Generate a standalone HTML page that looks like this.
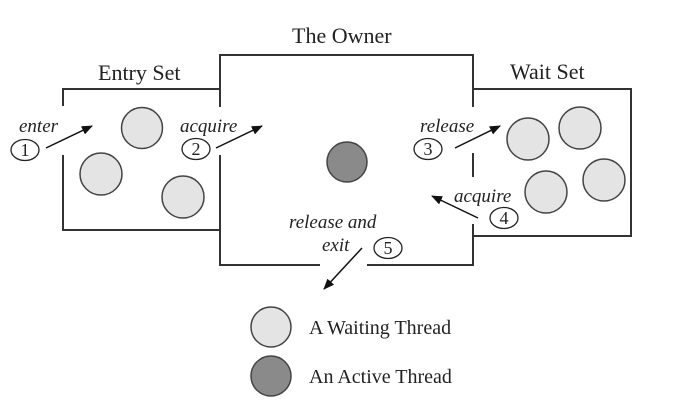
<!DOCTYPE html>
<html><head><meta charset="utf-8"><style>
html,body{margin:0;padding:0;background:#fff;}
svg{display:block;}
text{font-family:"Liberation Serif",serif;fill:#222;}
.t{font-size:22px;}
.i{font-size:19px;font-style:italic;}
.n{font-size:18px;}
.l{font-size:20px;}
</style></head><body>
<svg width="691" height="401" viewBox="0 0 691 401" xmlns="http://www.w3.org/2000/svg">
<defs>
<marker id="a" markerWidth="11" markerHeight="9" refX="10" refY="4.5" orient="auto" markerUnits="userSpaceOnUse">
<path d="M0,0 L11,4.5 L0,9 z" fill="#111"/></marker>
</defs>
<g stroke="#333" stroke-width="2" fill="none">
<polyline points="63,106 63,89 220,89"/>
<polyline points="63,155 63,230 220,230"/>
<polyline points="220,107 220,55 473,55 473,107"/>
<polyline points="220,155 220,265 320,265"/>
<polyline points="367,265 473,265 473,224"/>
<line x1="473" y1="153" x2="473" y2="177"/>
<polyline points="473,89 631,89 631,236 473,236"/>
</g>
<g stroke="#444" stroke-width="1.5" fill="#e4e4e4">
<circle cx="142" cy="128" r="20.5"/>
<circle cx="101" cy="174" r="21"/>
<circle cx="183" cy="197" r="21"/>
<circle cx="528" cy="139" r="21"/>
<circle cx="580" cy="128" r="21"/>
<circle cx="546" cy="192" r="21"/>
<circle cx="604" cy="180" r="21"/>
<circle cx="271" cy="327" r="20"/>
</g>
<g stroke="#444" stroke-width="1.5" fill="#8a8a8a">
<circle cx="347" cy="162" r="20"/>
<circle cx="271" cy="376" r="20"/>
</g>
<text class="t" x="292" y="43">The Owner</text>
<text class="t" x="98" y="80">Entry Set</text>
<text class="t" x="510" y="79">Wait Set</text>
<g stroke="#111" stroke-width="1.5" fill="none">
<line x1="46" y1="148" x2="92" y2="126" marker-end="url(#a)"/>
<line x1="216" y1="148" x2="262" y2="126" marker-end="url(#a)"/>
<line x1="455" y1="148" x2="500" y2="126" marker-end="url(#a)"/>
<line x1="478" y1="218" x2="432" y2="196" marker-end="url(#a)"/>
<line x1="362" y1="248" x2="324" y2="289" marker-end="url(#a)"/>
</g>
<g stroke="#222" stroke-width="1.3" fill="#fff">
<ellipse cx="25" cy="150" rx="14" ry="10.5"/>
<ellipse cx="196" cy="149" rx="14" ry="10.5"/>
<ellipse cx="428" cy="149" rx="14" ry="10.5"/>
<ellipse cx="504" cy="218" rx="14" ry="10.5"/>
<ellipse cx="388" cy="248" rx="14" ry="10.5"/>
</g>
<g class="n" text-anchor="middle">
<text x="25" y="156">1</text>
<text x="196" y="155">2</text>
<text x="428" y="155">3</text>
<text x="504" y="224">4</text>
<text x="388" y="254">5</text>
</g>
<text class="i" x="19" y="132">enter</text>
<text class="i" x="180" y="132">acquire</text>
<text class="i" x="420" y="132">release</text>
<text class="i" x="454" y="202">acquire</text>
<text class="i" x="289" y="228">release and</text>
<text class="i" x="322" y="251">exit</text>
<text class="l" x="309" y="334">A Waiting Thread</text>
<text class="l" x="309" y="383">An Active Thread</text>
</svg>
</body></html>
